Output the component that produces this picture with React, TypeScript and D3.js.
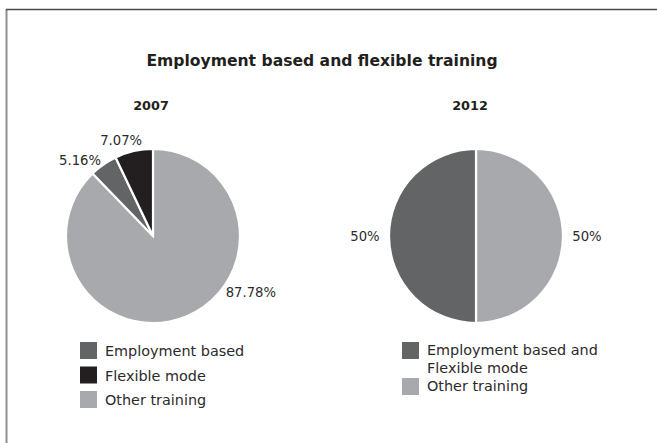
import React from "react";
import * as d3 from "d3";

const title = "Employment based and flexible training";

const years2007 = "2007";
const cats2007 = ["Other training", "Employment based", "Flexible mode"];
const vals2007 = [87.78, 5.16, 7.07];
const labels2007 = ["87.78%", "5.16%", "7.07%"];

const years2012 = "2012";
const cats2012 = ["Other training", "Employment based and Flexible mode"];
const vals2012 = [50, 50];
const labels2012 = ["50%", "50%"];

const legend2007 = ["Employment based", "Flexible mode", "Other training"];
const legend2012 = [["Employment based and", "Flexible mode"], ["Other training"]];

const COLORS: Record<string, string> = {
  "Other training": "#a7a9ac",
  "Employment based": "#636466",
  "Flexible mode": "#231f20",
  "Employment based and Flexible mode": "#636466",
};

const FONT = "'DejaVu Sans', sans-serif";
const TEXT = "#2b2a2b";

function Pie({ cx, cy, r, cats, vals, labels, labelAngles, labelRadii }: any) {
  const pie = d3.pie<number>().sort(null).value((d) => d);
  const arcs = pie(vals);
  const arc = d3.arc<d3.PieArcDatum<number>>().innerRadius(0).outerRadius(r);
  return (
    <g transform={`translate(${cx},${cy})`}>
      {arcs.map((a, i) => (
        <path key={i} d={arc(a) || ""} fill={COLORS[cats[i]]} stroke="#fff" strokeWidth={2.2} strokeLinejoin="miter" />
      ))}
      {arcs.map((a, i) => {
        const ang = labelAngles ? (labelAngles[i] * Math.PI) / 180 : (a.startAngle + a.endAngle) / 2;
        const rr = labelRadii[i];
        return (
          <text key={"l" + i} x={Math.sin(ang) * rr} y={-Math.cos(ang) * rr} textAnchor="middle" dominantBaseline="central"
            fontFamily={FONT} fontSize={13.2} fill={TEXT}>
            {labels[i]}
          </text>
        );
      })}
    </g>
  );
}

export default function App() {
  const r = 87;
  const c1 = { x: 153, y: 236 };
  const c2 = { x: 476, y: 236 };
  return (
    <svg width={657} height={443} style={{ position: "absolute", left: 0, top: 0, background: "#fff" }}>
      <rect x={0} y={0} width={657} height={443} fill="#fff" />
      <line x1={6.5} y1={9} x2={6.5} y2={443} stroke="#8e8e8e" strokeWidth={2} />
      <line x1={6} y1={9.5} x2={657} y2={9.5} stroke="#4a4a4a" strokeWidth={1.6} />
      <text x={322} y={66} textAnchor="middle" fontFamily={FONT} fontWeight="bold" fontSize={15.6} fill="#231f20">
        {title}
      </text>
      <text x={151} y={110} textAnchor="middle" fontFamily={FONT} fontWeight="bold" fontSize={12.8} fill="#231f20">
        {years2007}
      </text>
      <text x={470} y={110} textAnchor="middle" fontFamily={FONT} fontWeight="bold" fontSize={12.8} fill="#231f20">
        {years2012}
      </text>
      <Pie cx={c1.x} cy={c1.y} r={r} cats={cats2007} vals={vals2007} labels={labels2007}
        labelAngles={[120, 316, 341.6]} labelRadii={[113, 105, 101]} />
      <Pie cx={c2.x} cy={c2.y} r={r} cats={cats2012} vals={vals2012} labels={labels2012}
        labelRadii={[111, 111]} />
      {legend2007.map((t, i) => (
        <g key={t} transform={`translate(80,${342 + i * 24.5})`}>
          <rect width={17} height={17} fill={COLORS[t]} />
          <text x={25} y={14} fontFamily={FONT} fontSize={14.4} fill={TEXT}>{t}</text>
        </g>
      ))}
      {legend2012.map((lines, i) => (
        <g key={i} transform={`translate(402,${342 + i * 36})`}>
          <rect width={17} height={17} fill={COLORS[i === 0 ? cats2012[1] : cats2012[0]]} />
          {lines.map((ln, j) => (
            <text key={j} x={25} y={13 + j * 17.5} fontFamily={FONT} fontSize={14.4} fill={TEXT}>{ln}</text>
          ))}
        </g>
      ))}
    </svg>
  );
}
